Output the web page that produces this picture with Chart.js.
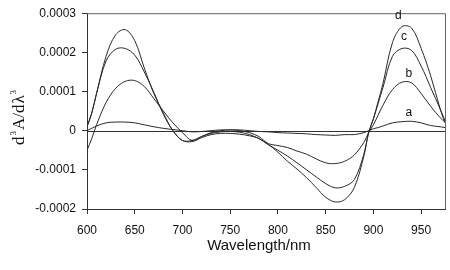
<!DOCTYPE html>
<html>
<head>
<meta charset="utf-8">
<script src="https://cdn.jsdelivr.net/npm/chart.js@4"></script>
<style>
  body { margin: 0; background: #fff; }
  #wrap { width: 450px; height: 270px; }
</style>
</head>
<body>
<div id="wrap"><canvas id="chart" width="450" height="270"></canvas></div>
<script>
// wavelengths (nm)
const wavelengths = [600, 605, 610, 620, 630, 640, 650, 660, 670, 680, 690, 700, 710, 720, 730, 740, 750, 760, 770, 780,
    790, 800, 810, 820, 830, 840, 850, 860, 870, 880, 890, 895, 900, 905, 910, 920, 930, 940, 950, 960, 970, 975];

// third derivative values, read in units of 1e-4
const seriesA = [0.0, 0.06, 0.12, 0.2, 0.22, 0.22, 0.2, 0.15, 0.1, 0.06, 0.03, 0.0, -0.03, -0.02, 0.0, 0.02, 0.02, 0.02, 0.0, -0.02,
    -0.03, -0.05, -0.06, -0.07, -0.08, -0.1, -0.11, -0.12, -0.1, -0.1, -0.05, 0.0, 0.05, 0.08, 0.12, 0.2, 0.23, 0.24, 0.2, 0.13, 0.1, 0.08];
const seriesB = [-0.5, -0.2, 0.15, 0.72, 1.08, 1.26, 1.28, 1.13, 0.82, 0.5, 0.2, -0.05, -0.25, -0.15, -0.05, 0.0, 0.02, 0.0, -0.05, -0.15,
    -0.33, -0.38, -0.43, -0.52, -0.6, -0.72, -0.82, -0.84, -0.78, -0.62, -0.3, -0.05, 0.15, 0.4, 0.65, 1.05, 1.24, 1.22, 0.95, 0.62, 0.33, 0.22];
const seriesC = [0.1, 0.45, 0.95, 1.78, 2.08, 2.1, 1.93, 1.5, 0.98, 0.42, 0.0, -0.25, -0.25, -0.15, -0.07, -0.03, -0.02, -0.04, -0.1, -0.2,
    -0.36, -0.5, -0.65, -0.82, -1.0, -1.18, -1.35, -1.46, -1.42, -1.25, -0.6, -0.05, 0.3, 0.7, 1.1, 1.9, 2.1, 2.05, 1.65, 1.1, 0.55, 0.25];
const seriesD = [0.1, 0.45, 0.95, 1.9, 2.45, 2.58, 2.3, 1.6, 0.95, 0.45, 0.0, -0.25, -0.28, -0.18, -0.1, -0.07, -0.07, -0.09, -0.13, -0.2,
    -0.35, -0.55, -0.78, -0.98, -1.2, -1.45, -1.7, -1.82, -1.76, -1.45, -0.65, -0.05, 0.3, 0.75, 1.2, 2.25, 2.66, 2.62, 2.1, 1.4, 0.55, 0.2];
const UNIT = 1e-4;

// curve labels, placed in data units (nm, 1e-4)
const curveNames = ['a', 'b', 'c', 'd'];
const curveLabelX = [937, 937, 932, 926];
const curveLabelY = [0.45, 1.45, 2.4, 2.93];

const xTicks = [600, 650, 700, 750, 800, 850, 900, 950];

function toPoints(values) {
    return wavelengths.map((w, i) => ({ x: w, y: values[i] * UNIT }));
}

const lineStyle = {
    borderColor: '#2a2a2a',
    borderWidth: 1,
    pointRadius: 0,
    tension: 0.35,
    fill: false
};

// rotated y title with small superscripts, drawn piece by piece
function drawYTitle(ctx, cx, cy) {
    const big = '17px "Liberation Serif", "Times New Roman", serif';
    const small = '9px "Liberation Serif", "Times New Roman", serif';
    const parts = [
        ['d', big, 0], ['3', small, -8], ['A/d', big, 0], ['\u03BB', big, 0], ['3', small, -8]
    ];
    ctx.save();
    ctx.translate(cx, cy);
    ctx.rotate(-Math.PI / 2);
    ctx.textBaseline = 'alphabetic';
    ctx.textAlign = 'left';
    let total = 0;
    parts.forEach(([t, f]) => { ctx.font = f; total += ctx.measureText(t).width + 1; });
    let x = -total / 2;
    parts.forEach(([t, f, dy]) => {
        ctx.font = f;
        ctx.fillText(t, x, dy);
        x += ctx.measureText(t).width + 1;
    });
    ctx.restore();
}

// frame, zero line, axis titles and curve letters
const decorations = {
    id: 'decorations',
    beforeDatasetsDraw(chart) {
        const { ctx, chartArea, scales } = chart;
        const y0 = scales.y.getPixelForValue(0);
        ctx.save();
        ctx.strokeStyle = '#333';
        ctx.lineWidth = 1;
        ctx.beginPath();
        ctx.moveTo(chartArea.left, Math.round(y0) + 0.5);
        ctx.lineTo(chartArea.right, Math.round(y0) + 0.5);
        ctx.stroke();
        ctx.restore();
    },
    afterDraw(chart) {
        const { ctx, chartArea, scales } = chart;
        ctx.save();
        ctx.strokeStyle = '#666';
        ctx.lineWidth = 1;
        ctx.beginPath();
        ctx.moveTo(chartArea.left, chartArea.top + 0.5);
        ctx.lineTo(chartArea.right + 0.5, chartArea.top + 0.5);
        ctx.lineTo(chartArea.right + 0.5, chartArea.bottom);
        ctx.stroke();

        ctx.fillStyle = '#111';
        ctx.font = '12px "Liberation Sans", Arial, sans-serif';
        ctx.textAlign = 'center';
        ctx.textBaseline = 'middle';
        curveNames.forEach((name, i) => {
            ctx.fillText(name, scales.x.getPixelForValue(curveLabelX[i]), scales.y.getPixelForValue(curveLabelY[i] * UNIT));
        });

        ctx.font = '15px "Liberation Sans", Arial, sans-serif';
        ctx.fillText('Wavelength/nm', 259, 246);
        ctx.restore();

        ctx.fillStyle = '#111';
        drawYTitle(ctx, 24, 117);
    }
};

new Chart(document.getElementById('chart'), {
    type: 'line',
    data: {
        datasets: [
            { label: 'a', data: toPoints(seriesA), ...lineStyle },
            { label: 'b', data: toPoints(seriesB), ...lineStyle },
            { label: 'c', data: toPoints(seriesC), ...lineStyle },
            { label: 'd', data: toPoints(seriesD), ...lineStyle }
        ]
    },
    options: {
        responsive: false,
        maintainAspectRatio: false,
        devicePixelRatio: 1,
        animation: false,
        layout: { padding: { top: 7, right: 5, left: 0, bottom: 0 } },
        plugins: { legend: { display: false }, tooltip: { enabled: false } },
        scales: {
            x: {
                type: 'linear',
                min: 600,
                max: 975,
                afterBuildTicks: scale => { scale.ticks = xTicks.map(v => ({ value: v })); },
                afterFit: scale => { scale.height = 61; },
                grid: { drawOnChartArea: false, drawTicks: true, tickLength: 5, color: '#333' },
                border: { display: true, color: '#333' },
                ticks: {
                    color: '#111',
                    padding: 9,
                    maxRotation: 0,
                    font: { family: '"Liberation Sans", Arial, sans-serif', size: 12 }
                }
            },
            y: {
                min: -0.0002,
                max: 0.0003,
                afterFit: scale => { scale.width = 87; },
                grid: { drawOnChartArea: false, drawTicks: true, tickLength: 5, color: '#333' },
                border: { display: true, color: '#333' },
                ticks: {
                    stepSize: 0.0001,
                    color: '#111',
                    padding: 6,
                    font: { family: '"Liberation Sans", Arial, sans-serif', size: 12 },
                    callback: v => Math.abs(v) < 1e-9 ? '0' : v.toFixed(4)
                }
            }
        }
    },
    plugins: [decorations]
});
</script>
</body>
</html>
